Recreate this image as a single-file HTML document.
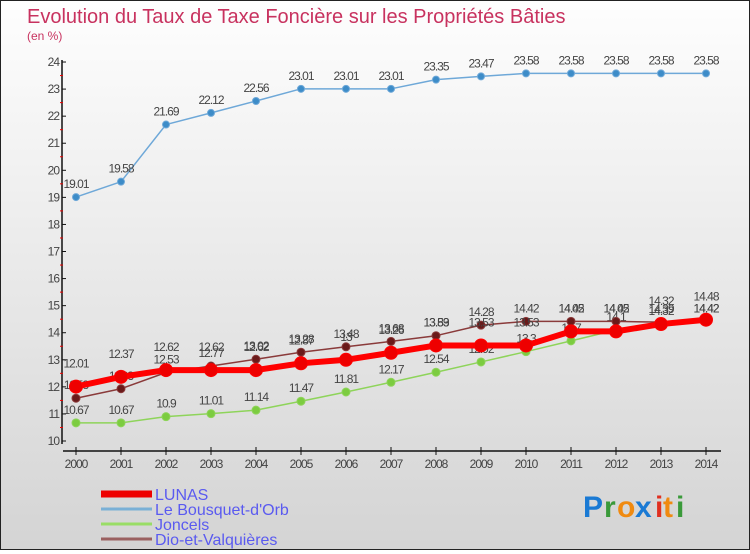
<!DOCTYPE html>
<html><head><meta charset="utf-8"><style>
html,body{margin:0;padding:0}
body{width:750px;height:550px;overflow:hidden;font-family:"Liberation Sans",sans-serif}
#wrap{position:relative;width:748px;height:548px;border:1px solid #222;background:linear-gradient(#fefefe,#d4d4d4)}
</style></head><body>
<div id="wrap">
<svg id="chart" width="748" height="548" xmlns="http://www.w3.org/2000/svg">
<text x="26" y="22" font-size="20" fill="#c8325f">Evolution du Taux de Taxe Foncière sur les Propriétés Bâties</text>
<text x="26" y="39" font-size="12" fill="#c8325f">(en %)</text>
<g id="axes"></g><g id="series"></g><g id="legend"></g>
<g font-size="30" font-weight="bold" font-family="Liberation Sans, sans-serif">
<text x="582" y="516" fill="#1a7ad4">P</text><text x="603" y="516" fill="#3a9a3a">r</text><text x="616" y="516" fill="#f08a10">o</text><text x="634" y="516" fill="#1a7ad4">x</text><text x="654" y="516" fill="#e03020">i</text><text x="662" y="516" fill="#f08a10">t</text><text x="675" y="516" fill="#3a9a3a">i</text>
</g>
</svg></div>
<script>
const years=[2000,2001,2002,2003,2004,2005,2006,2007,2008,2009,2010,2011,2012,2013,2014];
const yTicks=[10,11,12,13,14,15,16,17,18,19,20,21,22,23,24];
const lunas=[12.01,12.37,12.62,12.62,12.62,12.87,13,13.26,13.53,13.53,13.53,14.05,14.05,14.32,14.48];
const bousquet=[19.01,19.58,21.69,22.12,22.56,23.01,23.01,23.01,23.35,23.47,23.58,23.58,23.58,23.58,23.58];
const joncels=[10.67,10.67,10.9,11.01,11.14,11.47,11.81,12.17,12.54,12.92,13.3,13.7,14.1,14.32,14.42];
const dio=[11.58,11.93,12.53,12.77,13.02,13.28,13.48,13.68,13.89,14.28,14.42,14.42,14.42,14.39,14.42];
const NS="http://www.w3.org/2000/svg";
const xs=i=>75+i*45;
const ys=v=>440-(v-10)*27.07;
function mk(tag,attrs,parent){const e=document.createElementNS(NS,tag);for(const k in attrs)e.setAttribute(k,attrs[k]);parent.appendChild(e);return e;}
const ax=document.getElementById('axes');
let yl=mk('line',{x1:61,y1:ys(24)-2,x2:61,y2:ys(10)+3,stroke:'#111','stroke-width':1.5},ax);


yTicks.forEach(t=>{
  mk('line',{x1:61,y1:ys(t),x2:65,y2:ys(t),stroke:'#111'},ax);
  if(t<24){mk('line',{x1:59,y1:ys(t+0.5),x2:62,y2:ys(t+0.5),stroke:'#e00'},ax);}
  let tx=mk('text',{x:58,y:ys(t)+4,'font-size':12,fill:'#444','text-anchor':'end','letter-spacing':'-1'},ax);
  tx.textContent=t;
  
  
});
let xl=mk('line',{x1:62,y1:450,x2:720,y2:450,stroke:'#111','stroke-width':1.5},ax);


years.forEach((y,i)=>{
  mk('line',{x1:xs(i),y1:446,x2:xs(i),y2:454,stroke:'#111'},ax);
  let tx=mk('text',{x:xs(i),y:467,'font-size':12,fill:'#444','text-anchor':'middle','letter-spacing':'-1'},ax);
  tx.textContent=y;
  
  
});
const sg=document.getElementById('series');
function drawSeries(name,vals,color,w,r,mcolor,labelDy){
  const g=mk('g',{},sg);
  
  
  const ln=mk('polyline',{points:vals.map((v,i)=>xs(i)+','+ys(v)).join(' '),fill:'none',stroke:color,'stroke-width':w,'stroke-linejoin':'round'},g);
  
  
  vals.forEach((v,i)=>{
    const c=mk('circle',{cx:xs(i),cy:ys(v),r:r,fill:mcolor,stroke:color,'stroke-width':1},g);
    
    
    const t=mk('text',{x:xs(i),y:ys(v)+labelDy,'font-size':12,fill:'#444','text-anchor':'middle','letter-spacing':'-1'},g);
    t.textContent=String(v);
    
    
  });
}
drawSeries('joncels',joncels,'#8ed45a',1.5,4,'#7ccc40',-9);
drawSeries('bousquet',bousquet,'#6ea8d8',1.5,3.5,'#3d8cc8',-9);
drawSeries('dio',dio,'#8a3a3a',1.5,4,'#6a1a1a',-9);
drawSeries('lunas',lunas,'#ff0000',6,6.5,'#ee0000',-19);
const lg=document.getElementById('legend');
const items=[['LUNAS','#ee0000',7],['Le Bousquet-d\'Orb','#7ab0d6',3],['Joncels','#99dd66',3],['Dio-et-Valquières','#9a6060',3]];
items.forEach((it,i)=>{
  const y=493+i*15;
  const g=mk('g',{},lg);
  
  
  mk('line',{x1:100,y1:y,x2:151,y2:y,stroke:it[1],'stroke-width':it[2]},g);
  const t=mk('text',{x:154,y:y+6,'font-size':16,fill:'#5a5af0'},g);
  t.textContent=it[0];
});
</script>
</body></html>
